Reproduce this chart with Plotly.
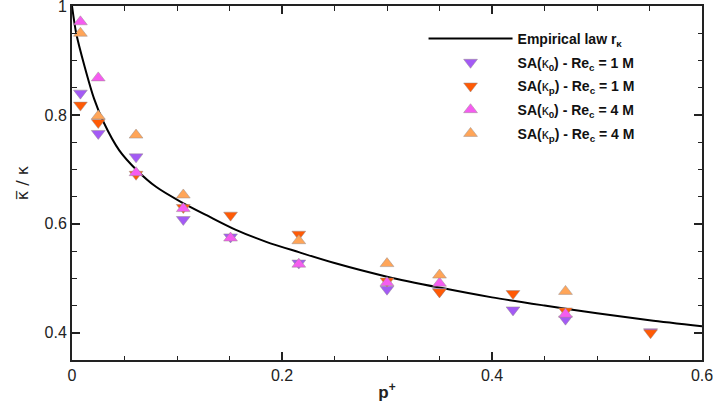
import plotly.graph_objects as go

# ---- data ----
law_p = [0, 0.004, 0.012, 0.021, 0.030, 0.045, 0.062, 0.080, 0.104, 0.130, 0.155,
         0.185, 0.216, 0.250, 0.300, 0.350, 0.400, 0.450, 0.500, 0.550, 0.600]
law_v = [1.000, 0.950, 0.889, 0.830, 0.787, 0.735, 0.698, 0.668, 0.640, 0.614, 0.590,
         0.567, 0.548, 0.528, 0.503, 0.483, 0.465, 0.450, 0.436, 0.423, 0.412]

p_k0_1M = [0.008, 0.025, 0.061, 0.106, 0.151, 0.216, 0.300, 0.350, 0.420, 0.470, 0.551]
v_k0_1M = [0.840, 0.766, 0.723, 0.608, 0.576, 0.528, 0.480, 0.476, 0.442, 0.425, 0.402]

p_kp_1M = [0.008, 0.025, 0.061, 0.106, 0.151, 0.216, 0.300, 0.350, 0.420, 0.470, 0.551]
v_kp_1M = [0.818, 0.786, 0.691, 0.630, 0.616, 0.581, 0.495, 0.475, 0.472, 0.440, 0.400]

p_k0_4M = [0.008, 0.025, 0.061, 0.106, 0.151, 0.216, 0.300, 0.350, 0.470]
v_k0_4M = [0.971, 0.868, 0.694, 0.628, 0.574, 0.526, 0.492, 0.491, 0.434]

p_kp_4M = [0.008, 0.025, 0.061, 0.106, 0.216, 0.300, 0.350, 0.470]
v_kp_4M = [0.950, 0.798, 0.763, 0.653, 0.569, 0.527, 0.506, 0.476]

names = ["<b>Empirical law r<sub>κ</sub></b>",
         "<b>SA(</b>κ<sub><b>0</b></sub><b>) - Re<sub>c</sub> = 1 M</b>",
         "<b>SA(</b>κ<sub><b>p</b></sub><b>) - Re<sub>c</sub> = 1 M</b>",
         "<b>SA(</b>κ<sub><b>0</b></sub><b>) - Re<sub>c</sub> = 4 M</b>",
         "<b>SA(</b>κ<sub><b>p</b></sub><b>) - Re<sub>c</sub> = 4 M</b>"]

FONT = "Liberation Sans, Arial, sans-serif"

fig = go.Figure()
fig.add_trace(go.Scatter(x=law_p, y=law_v, mode="lines", name=names[0], legendgroup="g0",
                         line=dict(color="black", width=2, shape="spline", smoothing=0.8)))

series = [
    (p_k0_1M, v_k0_1M, names[1], "triangle-down", "#a35af5"),
    (p_kp_1M, v_kp_1M, names[2], "triangle-down", "#ff5a05"),
    (p_k0_4M, v_k0_4M, names[3], "triangle-up", "#f55cf0"),
    (p_kp_4M, v_kp_4M, names[4], "triangle-up", "#ffa558"),
]
for i, (px, py, nm, sym, col) in enumerate(series):
    fig.add_trace(go.Scatter(x=px, y=py, mode="markers", name=nm, legendgroup=f"g{i+1}",
                             marker=dict(symbol=sym, size=12, color=col,
                                         line=dict(color="rgba(150,140,140,0.7)", width=0.7))))

axis_common = dict(showline=True, linewidth=2, linecolor="#222", mirror="ticks",
                   ticks="inside", ticklen=8, tickwidth=1.5, tickcolor="#222",
                   showgrid=False, zeroline=False, ticklabeloverflow="allow",
                   automargin=False,
                   tickfont=dict(family=FONT, size=16, color="#222"))

fig.update_xaxes(range=[0, 0.6], dtick=0.2, tick0=0, tickformat="~g",
                 minor=dict(dtick=0.05, ticks="inside", ticklen=4.5, tickwidth=1, tickcolor="#222"),
                 ticklabelstandoff=0,
                 title=dict(text="<b>p<sup>+</sup></b>", font=dict(family=FONT, size=17, color="#222"),
                            standoff=3),
                 **axis_common)
fig.update_yaxes(range=[0.35, 1.0], dtick=0.2, tick0=0, tickformat="~g",
                 minor=dict(dtick=0.05, ticks="inside", ticklen=4.5, tickwidth=1, tickcolor="#222"),
                 title=dict(text="κ\u0305 / κ", font=dict(family="DejaVu Sans, sans-serif", size=16, color="#222"),
                            standoff=12),
                 **axis_common)

fig.update_layout(
    width=713, height=406,
    margin=dict(l=72, r=11, t=6, b=46),
    plot_bgcolor="white", paper_bgcolor="white",
    font=dict(family=FONT, size=14, color="#111"),
    legend=dict(x=0.558, y=0.952, xanchor="left", yanchor="top",
                bgcolor="rgba(0,0,0,0)", borderwidth=0,
                font=dict(family=FONT, size=14, color="#111"),
                itemwidth=84, tracegroupgap=2.5),
    showlegend=True,
)

fig.write_html("out.html", config={"displayModeBar": False},
               post_script="document.body.style.margin='0px';")
